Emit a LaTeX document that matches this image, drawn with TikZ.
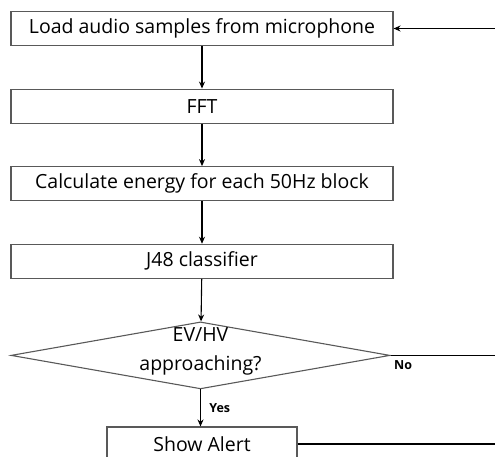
\documentclass[tikz,border=0pt]{standalone}
\usepackage{fontspec}
\setmainfont{Open Sans}
\usetikzlibrary{positioning,shapes.geometric,arrows.meta}
\tikzset {
    box style/.style={
        draw=black!65,
        line width=1.1pt,
        rectangle, % plain process box
        minimum width=382pt,
        minimum height=34pt,
        inner sep=0pt,
        align=center,
    },
    alert style/.style={
        box style,
        minimum width=190pt,
    },
    decision style/.style={
        draw=black!65,
        line width=1.1pt,
        diamond, % question
        aspect=5.66,
        minimum width=379pt,
        minimum height=67pt,
        inner sep=0pt,
        align=center,
    },
    answer/.style={
        font=\fontsize{12.5}{14}\selectfont\bfseries,
    },
}

\begin{document}
\begin{tikzpicture}
        [font=\fontsize{19.5}{29}\selectfont, node distance=42.5pt,
         line/.style={draw=black, line width=1.1pt, -{Stealth[length=7pt,width=6pt]}},
         wire/.style={draw=black, line width=1.1pt}]
        \useasboundingbox (0,0) rectangle (495pt,-457pt);
        \coordinate (rim) at (495pt,0);

        \node[box style] (load) at (202pt,-28.5pt) {Load audio samples from microphone};
        \node[box style, below=of load] (fft) {FFT};
        \node[box style, below=of fft] (energy) {Calculate energy for each 50Hz block};
        \node[box style, below=of energy] (j48) {J48 classifier};
        \node[decision style, below=of j48, xshift=-1.5pt] (approach)
            {\smash{\begin{tabular}{@{}c@{}}EV/HV\\approaching?\end{tabular}}};
        \node[alert style, below=37pt of approach, xshift=1.5pt] (alert) {Show Alert};

        \draw[line] (load) -- (fft);
        \draw[line] (fft) -- (energy);
        \draw[line] (energy) -- (j48);
        \draw[line] (j48) -- (approach);
        \draw[line] (approach.south) -- node[answer, right=5pt] {Yes} (alert.north -| approach.south);

        % lines running back to the start
        \draw[line] (rim |- load.east) -- (load.east);
        \draw[wire] (approach.east) -- node[answer, pos=0.12, below=1pt] {No} (rim |- approach.east);
        \draw[wire] (alert.east) -- (rim |- alert.east);
    \end{tikzpicture}
\end{document}
